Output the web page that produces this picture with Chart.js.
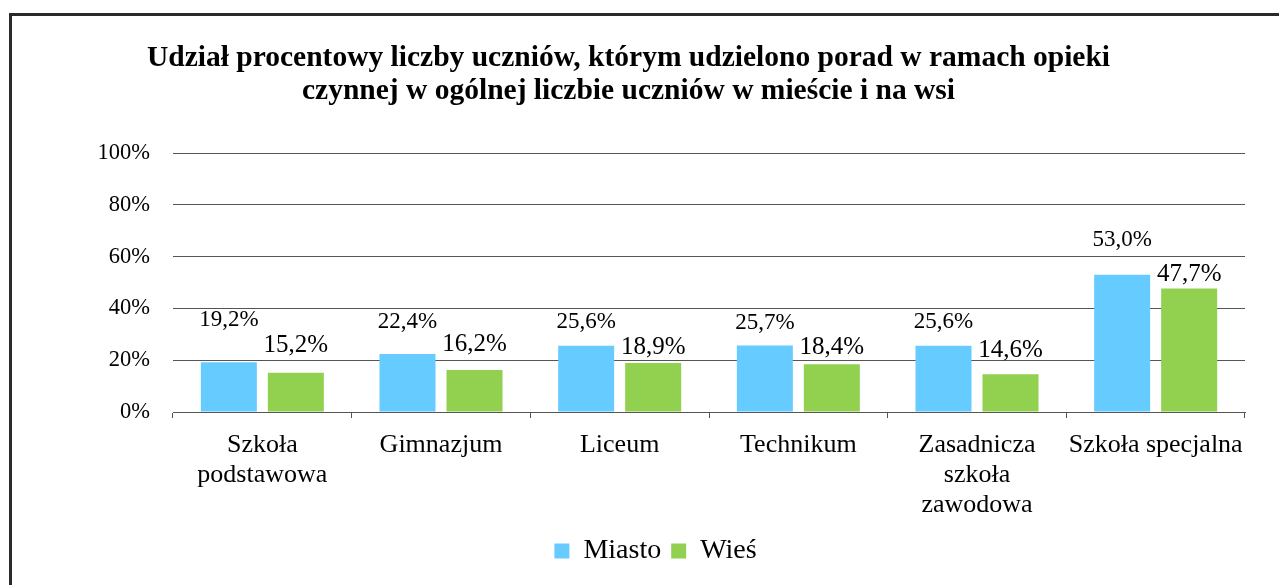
<!DOCTYPE html>
<html lang="pl">
<head>
<meta charset="utf-8">
<title>Udział procentowy liczby uczniów</title>
<script src="https://cdn.jsdelivr.net/npm/chart.js@4.4.1/dist/chart.umd.min.js"></script>
<style>
    html, body { margin: 0; padding: 0; background: #fff; overflow: hidden; }
    #frame {
        position: absolute; left: 9px; top: 13px;
        width: 1400px; height: 700px;
        border: 3px solid #2a2a2a; box-sizing: border-box;
    }
    #wrap { position: absolute; left: 0; top: 0; width: 1279px; height: 585px; }
</style>
</head>
<body>
<div id="frame"></div>
<div id="wrap"><canvas id="mainChart" width="1279" height="585"></canvas></div>
<script>
// ========== Dane wykresu ==========
const categories = [
    ['Szkoła', 'podstawowa'],
    'Gimnazjum',
    'Liceum',
    'Technikum',
    ['Zasadnicza', 'szkoła', 'zawodowa'],
    'Szkoła specjalna'
];
const miasto = [19.2, 22.4, 25.6, 25.7, 25.6, 53.0];
const wies = [15.2, 16.2, 18.9, 18.4, 14.6, 47.7];
const yTicks = [0, 20, 40, 60, 80, 100];

// etykiety danych przesunięte ręcznie jak w oryginale (px nad słupkiem)
const miastoLabelLift = [42, 32, 24, 23, 24, 35];
const wiesLabelLift = [27, 26, 16, 17, 24, 14];

const SERIF = '"Liberation Serif", "Times New Roman", serif';
Chart.defaults.font.family = SERIF;
Chart.defaults.color = '#000';

function formatPct(v) {
    return v.toFixed(1).replace('.', ',') + '%';
}

// etykiety wartości nad słupkami
const valueLabels = {
    id: 'valueLabels',
    afterDatasetsDraw(chart) {
        const ctx = chart.ctx;
        ctx.save();
        ctx.fillStyle = '#000';
        ctx.textAlign = 'center';
        ctx.textBaseline = 'middle';
        chart.data.datasets.forEach((ds, di) => {
            const meta = chart.getDatasetMeta(di);
            ctx.font = ds.labelSize + 'px ' + SERIF;
            meta.data.forEach((bar, i) => {
                ctx.fillText(formatPct(ds.data[i]), bar.x, bar.y - ds.labelLift[i]);
            });
        });
        ctx.restore();
    }
};

// legenda przesunięta w prawo jak w Excelu
const legendShift = {
    id: 'legendShift',
    afterLayout(chart) {
        if (chart.legend) {
            chart.legend.left += 27;
            chart.legend.right += 27;
        }
    }
};

const ctx = document.getElementById('mainChart');
new Chart(ctx, {
    type: 'bar',
    data: {
        labels: categories,
        datasets: [
            {
                label: 'Miasto',
                data: miasto,
                backgroundColor: '#66CCFF',
                borderWidth: 0,
                labelSize: 23,
                labelLift: miastoLabelLift
            },
            {
                label: 'Wieś',
                data: wies,
                backgroundColor: '#92D050',
                borderWidth: 0,
                labelSize: 25,
                labelLift: wiesLabelLift
            }
        ]
    },
    options: {
        responsive: false,
        animation: false,
        layout: { padding: { left: 12, right: 34, top: 42, bottom: 10 } },
        datasets: { bar: { categoryPercentage: 0.75, barPercentage: 0.836 } },
        plugins: {
            title: {
                display: true,
                text: [
                    'Udział procentowy liczby uczniów, którym udzielono porad w ramach opieki',
                    'czynnej w ogólnej liczbie uczniów w mieście i na wsi'
                ],
                color: '#000',
                font: { size: 29.5, weight: 'bold', lineHeight: 1.12 },
                padding: { top: 0, bottom: 45 }
            },
            legend: {
                position: 'bottom',
                labels: {
                    boxWidth: 15,
                    boxHeight: 15,
                    padding: 10,
                    color: '#000',
                    font: { size: 28 }
                }
            },
            tooltip: { enabled: false }
        },
        scales: {
            x: {
                grid: {
                    display: true,
                    drawOnChartArea: false,
                    offset: true,
                    tickLength: 6,
                    color: '#555'
                },
                border: { display: true, color: '#555' },
                ticks: {
                    padding: 12,
                    maxRotation: 0,
                    autoSkip: false,
                    color: '#000',
                    font: { size: 26, lineHeight: 1.15 }
                },
                afterFit(scale) { scale.height = 115; }
            },
            y: {
                min: 0,
                max: 100,
                afterBuildTicks(scale) {
                    scale.ticks = yTicks.map(v => ({ value: v }));
                },
                grid: { color: '#555', drawTicks: false },
                border: { display: false },
                ticks: {
                    padding: 23,
                    color: '#000',
                    font: { size: 22.5 },
                    callback: v => v + '%'
                },
                afterFit(scale) { scale.width = 161; }
            }
        }
    },
    plugins: [valueLabels, legendShift]
});
</script>
</body>
</html>
